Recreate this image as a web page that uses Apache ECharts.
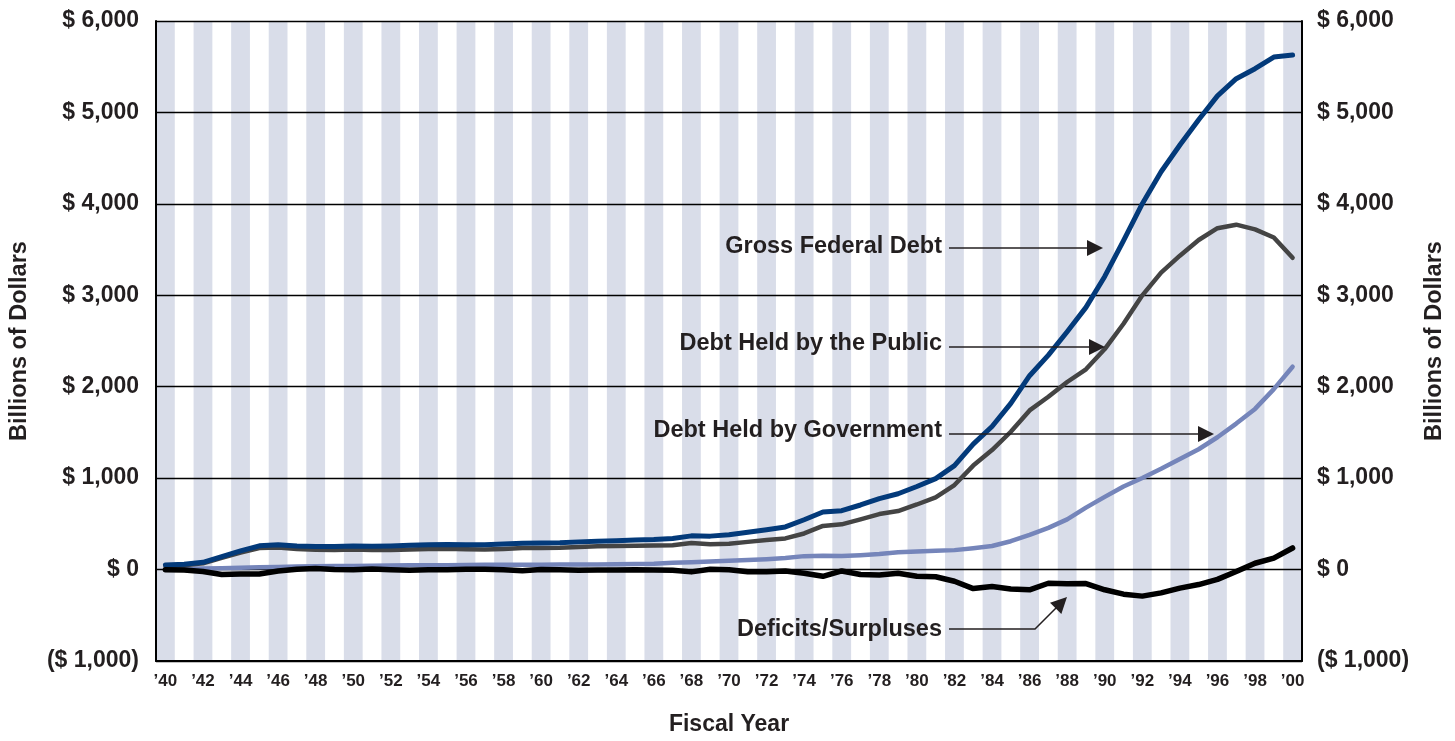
<!DOCTYPE html>
<html style="height: 100%;">
  <head>
    <meta charset="utf-8" />
  </head>
  <body style="height: 100%; margin: 0; background: #fff; overflow: hidden;">
    <div id="container" style="width: 1455px; height: 741px;"></div>
    <script src="https://cdn.jsdelivr.net/npm/echarts@6/dist/echarts.min.js"></script>
    <script type="text/javascript">
      // fiscal years 1940 - 2000
      var years = [
        1940, 1941, 1942, 1943, 1944, 1945, 1946, 1947, 1948, 1949,
        1950, 1951, 1952, 1953, 1954, 1955, 1956, 1957, 1958, 1959,
        1960, 1961, 1962, 1963, 1964, 1965, 1966, 1967, 1968, 1969,
        1970, 1971, 1972, 1973, 1974, 1975, 1976, 1977, 1978, 1979,
        1980, 1981, 1982, 1983, 1984, 1985, 1986, 1987, 1988, 1989,
        1990, 1991, 1992, 1993, 1994, 1995, 1996, 1997, 1998, 1999,
        2000
      ];

      // billions of dollars
      var grossDebt = [
        50.7, 57.5, 79.2, 142.6, 204.1, 260.1, 271.0, 257.1, 252.0, 252.6,
        256.9, 255.3, 259.1, 266.0, 270.8, 274.4, 272.7, 272.3, 279.7, 287.5,
        290.5, 292.6, 302.9, 310.3, 316.1, 322.3, 328.5, 340.4, 368.7, 365.8,
        380.9, 408.2, 435.9, 466.3, 545, 630, 644, 706.4, 776.6, 829.5,
        909.0, 994.8, 1137.3, 1371.7, 1564.6, 1817.4, 2120.5, 2346.0, 2601.1, 2867.8,
        3206.3, 3598.2, 4001.8, 4351.0, 4643.3, 4920.6, 5181.5, 5369.2, 5478.2, 5605.5,
        5628.7
      ];

      var publicDebt = [
        42.8, 48.2, 67.8, 127.8, 184.8, 235.2, 241.9, 224.3, 216.3, 214.3,
        219.0, 214.3, 214.8, 218.4, 224.5, 226.6, 222.2, 219.3, 226.3, 234.7,
        236.8, 238.4, 248.0, 254.0, 256.8, 260.8, 263.7, 266.6, 289.5, 278.1,
        283.2, 303.0, 322.4, 340.9, 395, 477, 495, 549.1, 607.1, 640.3,
        711.9, 789.4, 924.6, 1137.3, 1307.0, 1507.3, 1740.6, 1889.8, 2051.6, 2190.7,
        2411.6, 2689.0, 2999.7, 3248.4, 3433.1, 3604.4, 3734.1, 3772.3, 3721.1, 3632.4,
        3409.8
      ];

      var govDebt = [
        7.9, 9.3, 11.4, 14.9, 19.3, 24.9, 29.1, 32.8, 35.8, 38.3,
        37.8, 40.9, 44.3, 47.6, 46.3, 47.8, 50.5, 52.9, 53.3, 52.8,
        53.7, 54.3, 54.9, 56.3, 59.2, 61.5, 64.8, 73.8, 79.1, 87.7,
        97.7, 105.1, 113.6, 125.4, 147, 151, 148, 157.3, 169.5, 189.2,
        197.1, 205.4, 212.7, 234.4, 257.6, 310.2, 379.9, 456.2, 549.5, 677.1,
        794.7, 909.2, 1002.1, 1102.6, 1210.2, 1316.2, 1447.4, 1596.9, 1757.1, 1973.2,
        2218.9
      ];

      var deficits = [
        -2.9, -4.9, -20.5, -54.6, -47.6, -47.6, -15.9, 4.0, 11.8, 0.6,
        -3.1, 6.1, -1.5, -6.5, -1.2, -3.0, 3.9, 3.4, -2.8, -12.8,
        0.3, -3.3, -7.1, -4.8, -5.9, -1.4, -3.7, -8.6, -25.2, 3.2,
        -2.8, -23.0, -23.4, -14.9, -40, -74, -15, -53.7, -59.2, -40.7,
        -73.8, -79.0, -128.0, -207.8, -185.4, -212.3, -221.2, -149.7, -155.2, -152.6,
        -221.0, -269.2, -290.3, -255.1, -203.2, -164.0, -107.4, -21.9, 69.3, 125.6,
        236.2
      ];

      var yMin = -1000;
      var yMax = 6000;
      var yStep = 1000;

      var textColor = "#231f20";
      var font = "Liberation Sans, Arial, Helvetica, sans-serif";

      function dollarLabel(v) {
        var s = "$ " + Math.abs(v).toLocaleString("en-US");
        return v < 0 ? "(" + s + ")" : s;
      }

      function yearLabel(v) {
        return "\u2019" + String(v).slice(2);
      }

      // callout text + arrow, pixel layout
      function arrowHead(tip, dx, dy) {
        var len = 16, half = 8;
        var bx = tip[0] - dx * len, by = tip[1] - dy * len;
        return [tip, [bx - dy * half, by + dx * half], [bx + dy * half, by - dx * half]];
      }

      var callouts = [
        { text: "Gross Federal Debt", y: 247, path: [[949, 248], [1090, 248]], tip: [1103, 248], dir: [1, 0] },
        { text: "Debt Held by the Public", y: 344, path: [[949, 347], [1092, 347]], tip: [1105, 347], dir: [1, 0] },
        { text: "Debt Held by Government", y: 431, path: [[949, 434], [1201, 434]], tip: [1214, 434], dir: [1, 0] },
        { text: "Deficits/Surpluses", y: 630, path: [[949, 629], [1035, 629], [1058, 606]], tip: [1067, 597], dir: [0.7071, -0.7071] }
      ];

      var graphics = [];
      callouts.forEach(function (c) {
        graphics.push({
          type: "text",
          x: 942,
          y: c.y,
          z: 100,
          style: {
            text: c.text,
            fill: textColor,
            font: "bold 23.5px " + font,
            textAlign: "right",
            textVerticalAlign: "middle"
          }
        });
        graphics.push({
          type: "polyline",
          z: 100,
          shape: { points: c.path },
          style: { stroke: textColor, lineWidth: 1.5, fill: null }
        });
        graphics.push({
          type: "polygon",
          z: 100,
          shape: { points: arrowHead(c.tip, c.dir[0], c.dir[1]) },
          style: { fill: textColor }
        });
      });

      var dom = document.getElementById("container");
      var myChart = echarts.init(dom);

      var yAxisBase = {
        type: "value",
        min: yMin,
        max: yMax,
        interval: yStep,
        z: 1,
        name: "Billions of Dollars",
        nameLocation: "middle",
        nameRotate: 90,
        nameTextStyle: { color: textColor, fontSize: 23.5, fontWeight: "bold", fontFamily: font },
        axisLine: { show: true, lineStyle: { color: "#000", width: 2 } },
        axisTick: { show: false },
        axisLabel: {
          color: textColor,
          fontSize: 23,
          fontWeight: "bold",
          fontFamily: font,
          formatter: dollarLabel
        }
      };

      var option = {
        animation: false,
        grid: { left: 155, top: 21, width: 1148, height: 647, containLabel: false },
        xAxis: {
          type: "category",
          data: years,
          boundaryGap: true,
          z: 0,
          name: "Fiscal Year",
          nameLocation: "middle",
          nameGap: 52,
          nameTextStyle: { color: textColor, fontSize: 23, fontWeight: "bold", fontFamily: font },
          axisLine: { onZero: false, lineStyle: { color: "#000", width: 2 } },
          axisTick: { show: false },
          axisLabel: {
            interval: 1,
            margin: 12,
            color: textColor,
            fontSize: 17,
            fontWeight: "bold",
            fontFamily: font,
            formatter: yearLabel
          },
          splitLine: { show: false },
          splitArea: {
            show: true,
            interval: 0,
            areaStyle: { color: ["#d9dde9", "rgba(255,255,255,0)"] }
          }
        },
        yAxis: [
          Object.assign({}, yAxisBase, {
            position: "left",
            nameGap: 124,
            axisLabel: Object.assign({}, yAxisBase.axisLabel, { margin: 17 }),
            splitLine: { show: true, lineStyle: { color: "#000", width: 1.3 } }
          }),
          Object.assign({}, yAxisBase, {
            position: "right",
            nameGap: 121,
            axisLabel: Object.assign({}, yAxisBase.axisLabel, { margin: 15 }),
            splitLine: { show: false }
          })
        ],
        series: [
          {
            name: "Debt Held by Government",
            type: "line",
            data: govDebt,
            symbol: "none",
            lineStyle: { color: "#7585ba", width: 4.5, cap: "round", join: "round" },
            z: 2
          },
          {
            name: "Debt Held by the Public",
            type: "line",
            data: publicDebt,
            symbol: "none",
            lineStyle: { color: "#444444", width: 4.5, cap: "round", join: "round" },
            z: 3
          },
          {
            name: "Gross Federal Debt",
            type: "line",
            data: grossDebt,
            symbol: "none",
            lineStyle: { color: "#033a7a", width: 5, cap: "round", join: "round" },
            z: 4
          },
          {
            name: "Deficits/Surpluses",
            type: "line",
            data: deficits,
            symbol: "none",
            lineStyle: { color: "#000000", width: 5.5, cap: "round", join: "round" },
            z: 5
          }
        ],
        graphic: graphics
      };

      myChart.setOption(option);
    </script>
  </body>
</html>
